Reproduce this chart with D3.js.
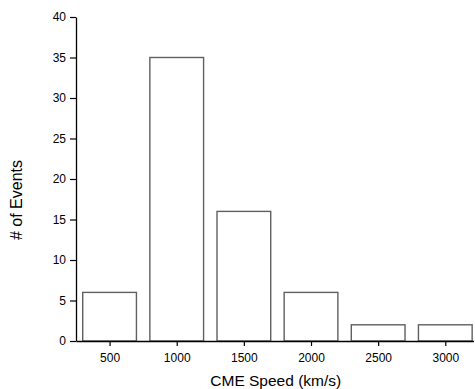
<!DOCTYPE html>
<meta charset="utf-8">
<title>CME Speed histogram</title>
<script src="https://d3js.org/d3.v7.min.js"></script>
<style>
  body { margin: 0; background: #fff; font-family: "Liberation Sans", Arial, sans-serif; }
</style>
<div id="chart"></div>
<script>
  // histogram data
  var speeds = [500, 1000, 1500, 2000, 2500, 3000];
  var counts = [6, 35, 16, 6, 2, 2];
  var yTicks = [0, 5, 10, 15, 20, 25, 30, 35, 40];
  var binHalf = 200;

  var W = 475, H = 389;
  var plotLeft = 76, plotRight = 473.5, plotTop = 17, plotBottom = 341;

  var svg = d3.select("#chart").append("svg")
      .attr("width", W)
      .attr("height", H);

  var x = d3.scaleLinear().domain([250, 3210]).range([plotLeft, plotRight]);
  var y = d3.scaleLinear().domain([0, 40]).range([plotBottom, plotTop]);

  // bars
  svg.selectAll("rect.bar")
    .data(speeds)
    .enter()
    .append("rect")
      .attr("class", "bar")
      .attr("x", function(d) { return x(d - binHalf); })
      .attr("y", function(d, i) { return y(counts[i]); })
      .attr("width", function(d) { return x(d + binHalf) - x(d - binHalf); })
      .attr("height", function(d, i) { return y(0) - y(counts[i]); })
      .attr("fill", "#fff")
      .attr("stroke", "#606060")
      .attr("stroke-width", 1.4);

  // y axis
  var yAxis = svg.append("g")
      .attr("transform", "translate(" + plotLeft + ",0)")
      .call(d3.axisLeft(y).tickValues(yTicks).tickSize(6).tickSizeOuter(0).tickPadding(4));

  // x axis
  var xAxis = svg.append("g")
      .attr("transform", "translate(0," + plotBottom + ")")
      .call(d3.axisBottom(x).tickValues(speeds).tickFormat(d3.format("d"))
        .tickSize(5).tickSizeOuter(0).tickPadding(7));

  [yAxis, xAxis].forEach(function(g) {
    g.select(".domain").attr("stroke", "#000").attr("stroke-width", 1.3);
    g.selectAll(".tick line").attr("stroke", "#000").attr("stroke-width", 1.2);
    g.selectAll("text")
      .attr("fill", "#000")
      .style("font-family", "'Liberation Sans', Arial, sans-serif")
      .style("font-size", "12px");
  });

  // axis titles
  svg.append("text")
    .attr("x", (plotLeft + plotRight) / 2 + 1)
    .attr("y", 386)
    .attr("text-anchor", "middle")
    .style("font-size", "15.5px")
    .text("CME Speed (km/s)");

  svg.append("text")
    .attr("transform", "translate(22,200) rotate(-90)")
    .attr("text-anchor", "middle")
    .style("font-size", "16px")
    .text("# of Events");
</script>
